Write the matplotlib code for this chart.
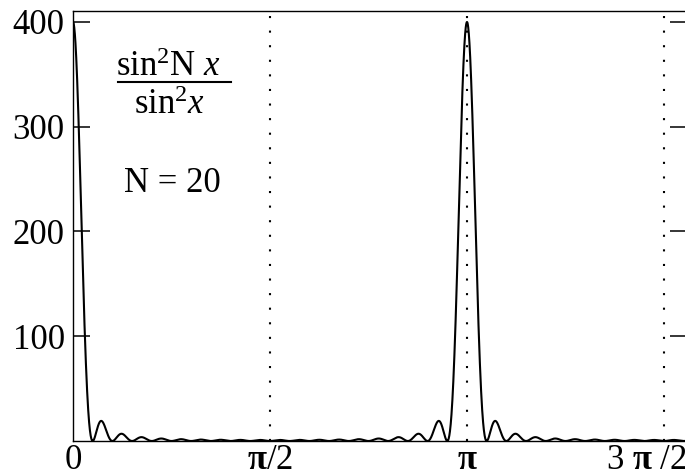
import numpy as np
import matplotlib.pyplot as plt
from matplotlib.lines import Line2D
from matplotlib.transforms import ScaledTranslation

plt.rcParams['font.family'] = ['Liberation Serif', 'DejaVu Serif']
plt.rcParams['mathtext.fontset'] = 'custom'
plt.rcParams['mathtext.rm'] = 'Liberation Serif'
plt.rcParams['mathtext.it'] = 'Liberation Serif:italic'
plt.rcParams['mathtext.bf'] = 'Liberation Serif:bold'

# chart values
N = 20
x_max = 4.896
xtick_pos = [0, np.pi / 2, np.pi, 3 * np.pi / 2]
xtick_labels = ['0', r'$\mathbf{\pi}$/2', r'$\mathbf{\pi}$', r'3 $\mathbf{\pi}$ /2']
ytick_pos = [100, 200, 300, 400]
guide_lines = [np.pi / 2, np.pi, 3 * np.pi / 2]

x = np.linspace(0, x_max, 4000)
s = np.sin(x)
with np.errstate(divide='ignore', invalid='ignore'):
    y = np.where(np.abs(s) < 1e-9, N ** 2, np.sin(N * x) ** 2 / s ** 2)

fig = plt.figure(figsize=(6.85, 4.75), dpi=100)
ax = fig.add_axes([73 / 685, 34 / 475, 614 / 685, 430 / 475])
ax.plot(x, y, color='black', lw=1.5)
for g in guide_lines:
    ax.axvline(g, color='black', lw=1.5, linestyle=(0, (1, 6)))

ax.set_xlim(0, x_max)
ax.set_ylim(0, 410.5)
ax.set_xticks(xtick_pos)
ax.set_xticklabels(xtick_labels)
ax.set_yticks(ytick_pos)
ax.tick_params(axis='x', length=0, pad=2, labelsize=25)
ax.tick_params(axis='y', direction='in', length=12, width=1.1, pad=6,
               labelsize=25, right=True)
for sp in ax.spines.values():
    sp.set_linewidth(1)

# last x label sits a bit left of its tick, as in the original
lab = ax.get_xticklabels()[-1]
lab.set_transform(lab.get_transform() + ScaledTranslation(-0.18, 0, fig.dpi_scale_trans))

# formula label
fig.text(168 / 685, 1 - 67 / 475, r'$\mathrm{sin}^2\mathrm{N}\ x$', fontsize=25,
         ha='center', va='center')
fig.add_artist(Line2D([118 / 685, 231 / 685], [1 - 82 / 475, 1 - 82 / 475],
                      color='black', lw=1.5))
fig.text(170 / 685, 1 - 105 / 475, r'$\mathrm{sin}^2x$', fontsize=25,
         ha='center', va='center')
fig.text(172 / 685, 1 - 183 / 475, 'N = 20', fontsize=25, ha='center', va='center')

plt.savefig('out.png', dpi=100)
